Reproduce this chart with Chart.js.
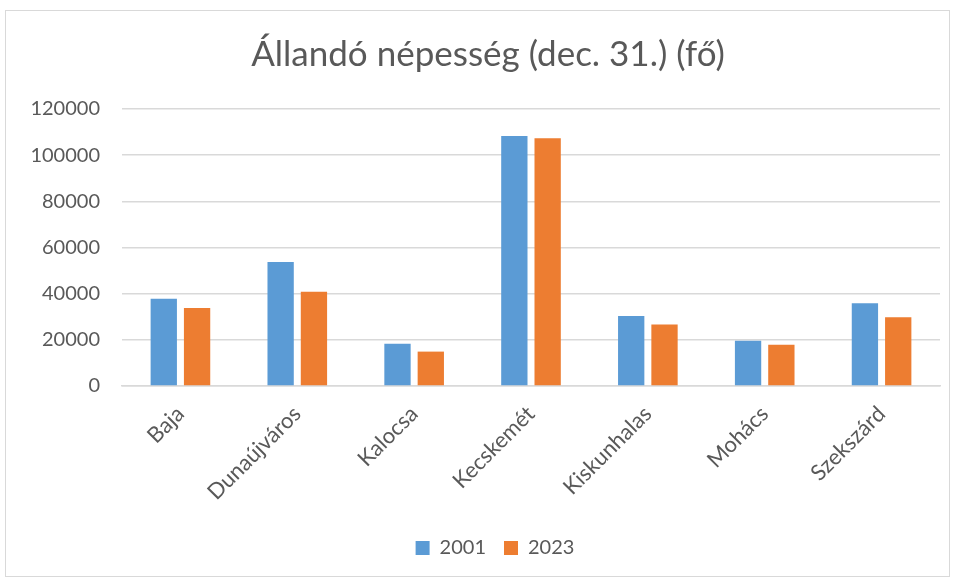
<!DOCTYPE html>
<html>
<head>
<meta charset="utf-8">
<script src="https://cdn.jsdelivr.net/npm/chart.js@4/dist/chart.umd.min.js"></script>
<style>
  body { margin: 0; background: #fff; }
  #frame { position: absolute; left: 5px; top: 10px; width: 943px; height: 565px; border: 1px solid #d9d9d9; }
  #wrap { position: absolute; left: 0; top: 0; width: 957px; height: 581px; }
</style>
</head>
<body>
<div id="frame"></div>
<div id="wrap"><canvas id="chart"></canvas></div>
<script>
// data
const cities = ['Baja', 'Dunaújváros', 'Kalocsa', 'Kecskemét', 'Kiskunhalas', 'Mohács', 'Szekszárd'];
const pop2001 = [37800, 53700, 18300, 108300, 30300, 19600, 35800];
const pop2023 = [33800, 40800, 14900, 107300, 26600, 17900, 29800];
const yTicks = [0, 20000, 40000, 60000, 80000, 100000, 120000];

const gray = '#595959';
const font = 'Lato, "Open Sans", sans-serif';

// nudge title and legend a bit to the right, like in the original
const shiftBoxes = {
  id: 'shiftBoxes',
  afterLayout(chart) {
    chart.legend.left += 50;
    chart.titleBlock.left += 36;
  }
};

new Chart(document.getElementById('chart'), {
  type: 'bar',
  data: {
    labels: cities,
    datasets: [
      { label: '2001', data: pop2001, backgroundColor: '#5B9BD5' },
      { label: '2023', data: pop2023, backgroundColor: '#ED7D31' }
    ]
  },
  plugins: [shiftBoxes],
  options: {
    responsive: true,
    maintainAspectRatio: false,
    animation: false,
    categoryPercentage: 0.57,
    barPercentage: 0.79,
    layout: { padding: { left: 0, right: 17, top: 20, bottom: 13 } },
    plugins: {
      title: {
        display: true,
        text: 'Állandó népesség (dec. 31.) (fő)',
        color: gray,
        font: { family: font, size: 35, weight: 'normal' },
        padding: { top: 14, bottom: 33 }
      },
      legend: {
        position: 'bottom',
        labels: {
          color: gray,
          font: { family: font, size: 20 },
          boxWidth: 14,
          boxHeight: 14,
          padding: 18
        }
      },
      tooltip: { enabled: false }
    },
    scales: {
      x: {
        grid: { display: false, drawTicks: false },
        border: { color: '#d9d9d9', width: 1.5 },
        ticks: {
          color: gray,
          font: { family: font, size: 22 },
          minRotation: 45,
          maxRotation: 45,
          padding: 15
        },
        afterFit: s => { s.height = 134; }
      },
      y: {
        min: 0,
        max: 120000,
        afterBuildTicks: s => { s.ticks = yTicks.map(v => ({ value: v })); },
        grid: { color: '#d9d9d9', lineWidth: 1.5, drawTicks: false },
        border: { display: false },
        ticks: {
          color: gray,
          font: { family: font, size: 20 },
          padding: 22,
          callback: v => String(v)
        },
        afterFit: s => { s.width = 122; }
      }
    }
  }
});
</script>
</body>
</html>
